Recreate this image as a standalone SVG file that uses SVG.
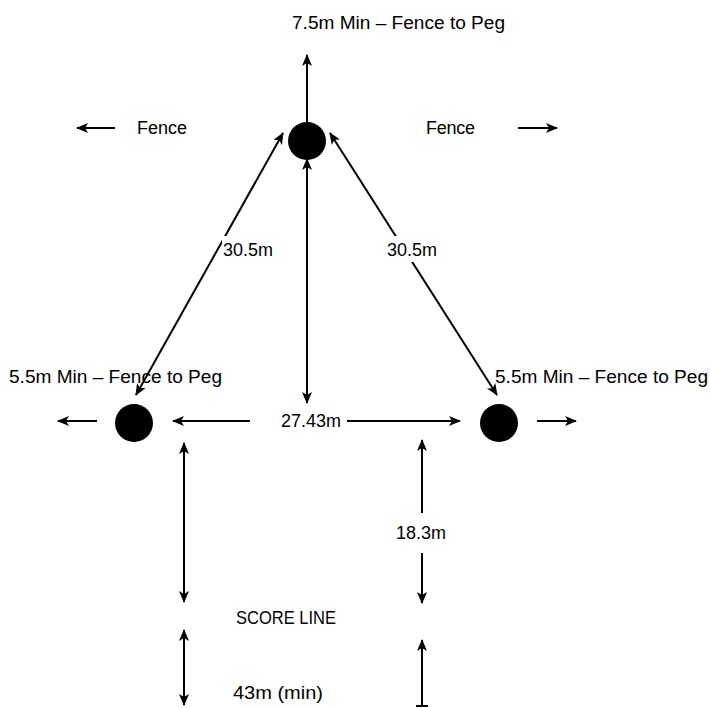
<svg xmlns="http://www.w3.org/2000/svg" width="710" height="708" viewBox="0 0 710 708">
<style>
text{font-family:"Liberation Sans",Arial,sans-serif;font-size:18px;fill:#000}
.c{text-anchor:middle}
.ln{stroke:#000;stroke-width:2;fill:none}
.peg{fill:#000}
</style>
<defs>
<marker id="ah" viewBox="0 0 12 10" refX="11" refY="5" markerWidth="12" markerHeight="10" markerUnits="userSpaceOnUse" orient="auto-start-reverse">
<path d="M0,0 L12,5 L0,10 L3,5 z" fill="#000"/>
</marker>
</defs>
<rect width="710" height="708" fill="#fff"/>
<g id="labels">
<text x="292" y="29" textLength="213" lengthAdjust="spacingAndGlyphs">7.5m Min – Fence to Peg</text>
<text x="137" y="134" textLength="50">Fence</text>
<text x="426" y="134" textLength="49">Fence</text>
<text x="9" y="383" textLength="213" lengthAdjust="spacingAndGlyphs">5.5m Min – Fence to Peg</text>
<text x="495" y="383" textLength="213" lengthAdjust="spacingAndGlyphs">5.5m Min – Fence to Peg</text>
<text x="311" y="427" class="c">27.43m</text>
<text x="421" y="539" class="c">18.3m</text>
<text x="236" y="624" textLength="100" lengthAdjust="spacingAndGlyphs">SCORE LINE</text>
<text x="233" y="699" textLength="90" lengthAdjust="spacingAndGlyphs">43m (min)</text>
</g>
<g id="peg-top"><circle class="peg" cx="307" cy="141" r="19"/></g>
<g id="peg-left"><circle class="peg" cx="134" cy="423" r="19"/></g>
<g id="peg-right"><circle class="peg" cx="499" cy="423" r="19"/></g>
<g id="connectors">
<line class="ln" x1="307" y1="122" x2="307" y2="55" marker-end="url(#ah)"/>
<line class="ln" x1="115" y1="128" x2="77" y2="128" marker-end="url(#ah)"/>
<line class="ln" x1="518" y1="128" x2="557" y2="128" marker-end="url(#ah)"/>
<line class="ln" x1="283" y1="133" x2="136" y2="395" marker-start="url(#ah)" marker-end="url(#ah)"/>
<line class="ln" x1="330" y1="133" x2="497" y2="395" marker-start="url(#ah)" marker-end="url(#ah)"/>
<line class="ln" x1="307" y1="159" x2="307" y2="403" marker-start="url(#ah)" marker-end="url(#ah)"/>
<line class="ln" x1="97" y1="421" x2="58" y2="421" marker-end="url(#ah)"/>
<line class="ln" x1="250" y1="421" x2="173" y2="421" marker-end="url(#ah)"/>
<line class="ln" x1="347" y1="421" x2="460" y2="421" marker-end="url(#ah)"/>
<line class="ln" x1="537" y1="421" x2="576" y2="421" marker-end="url(#ah)"/>
<line class="ln" x1="184" y1="443" x2="184" y2="602" marker-start="url(#ah)" marker-end="url(#ah)"/>
<line class="ln" x1="422" y1="513" x2="422" y2="440" marker-end="url(#ah)"/>
<line class="ln" x1="422" y1="553" x2="422" y2="603" marker-end="url(#ah)"/>
<line class="ln" x1="184" y1="630" x2="184" y2="705" marker-start="url(#ah)" marker-end="url(#ah)"/>
<line class="ln" x1="422" y1="706" x2="422" y2="640" marker-end="url(#ah)"/>
<line class="ln" x1="416" y1="706" x2="428" y2="706"/>
</g>
<g id="distance-labels">
<rect x="222" y="236" width="52" height="26" fill="#fff"/>
<text x="248" y="256" class="c">30.5m</text>
<rect x="386" y="236" width="52" height="26" fill="#fff"/>
<text x="412" y="256" class="c">30.5m</text>
</g>
</svg>
